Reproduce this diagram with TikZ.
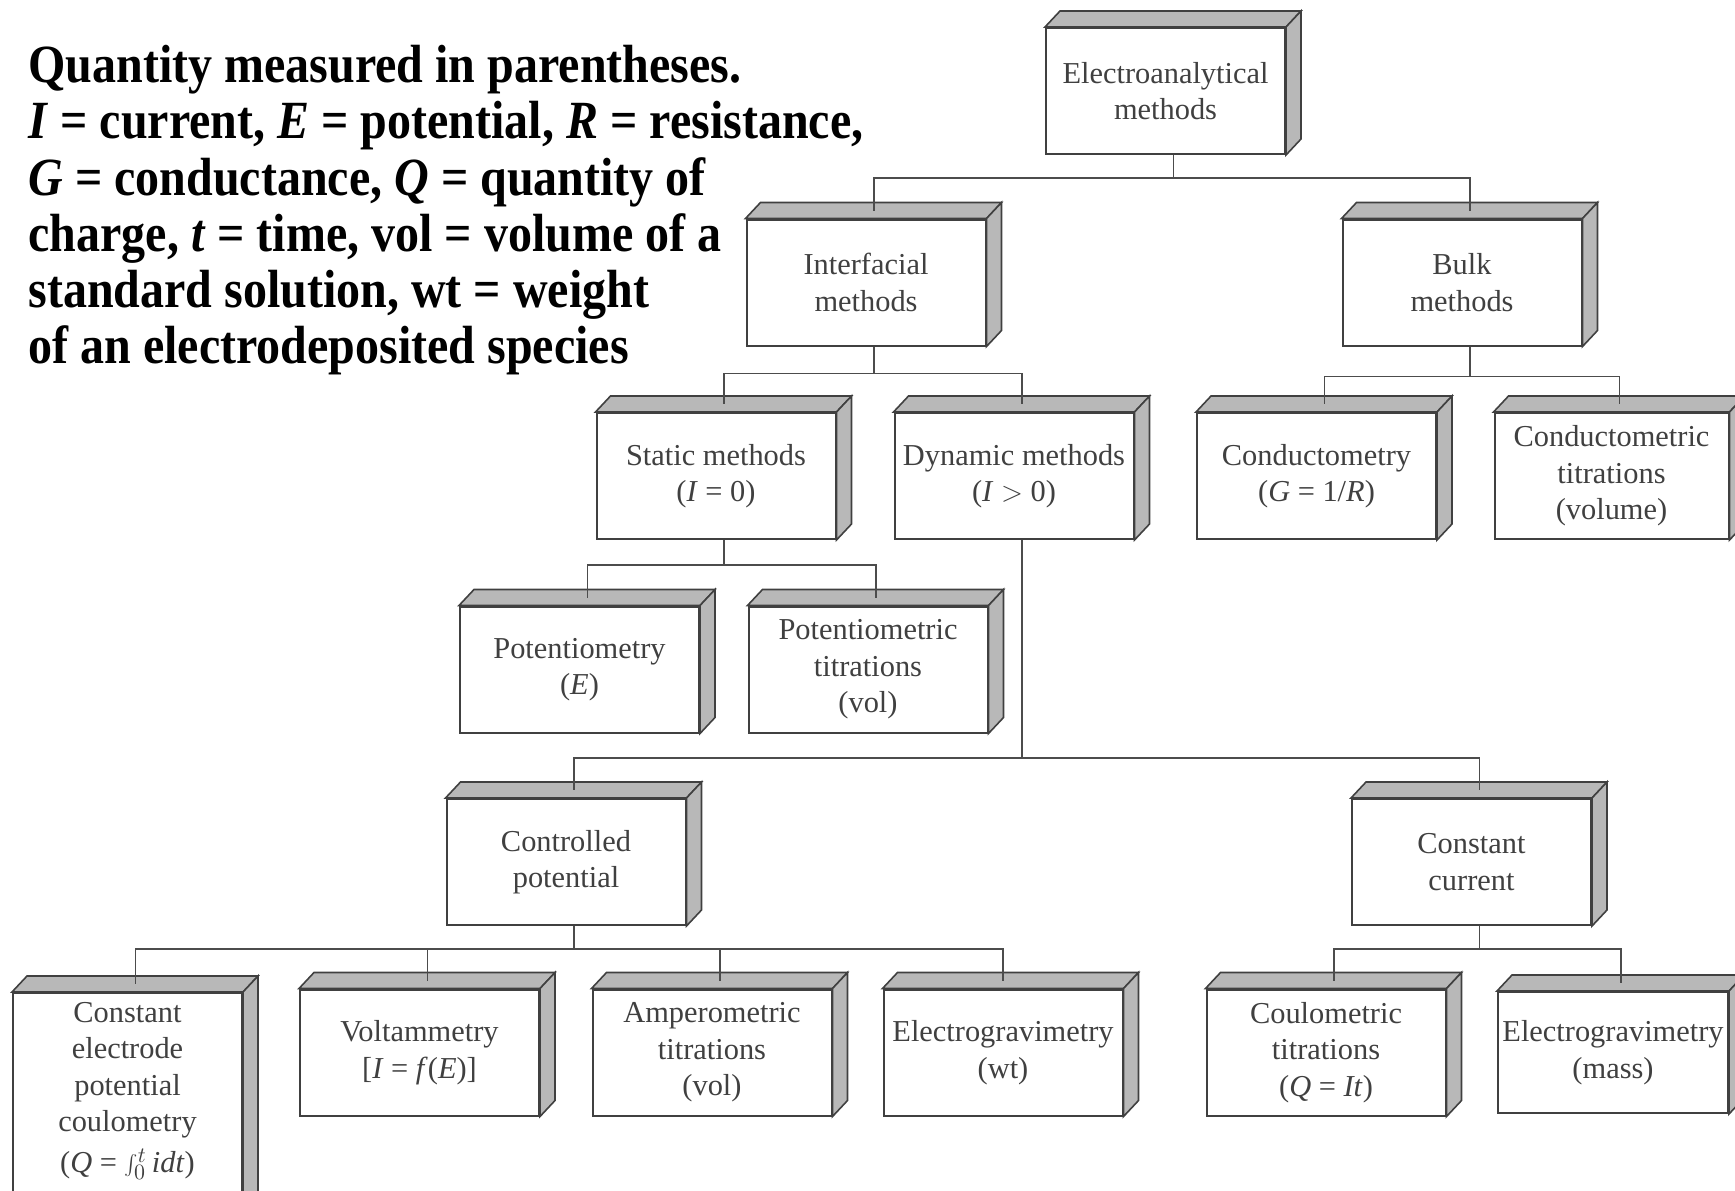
\documentclass[tikz,border=0pt]{standalone}
\usepackage{fontspec}
\setmainfont{Liberation Serif}
\usetikzlibrary{positioning}

\begin{document}
\begin{tikzpicture}[
      x=0.5pt, y=-0.5pt,
      box/.style={rectangle, draw=black!75, line width=1pt, fill=white, text=black!75, align=center,
        font=\fontsize{15.2}{18.3}\selectfont, minimum width=119.5pt, minimum height=63pt, inner sep=2pt},
      face/.style={draw=black!75, line width=0.8pt, fill=black!28},
      conn/.style={draw=black!70, line width=0.75pt}
    ]
    \useasboundingbox (0,0) rectangle (1735,1190);

    % Legend
    \node[anchor=north west, inner sep=0pt, align=left, yscale=1.12, transform shape,
          font=\bfseries\fontsize{24}{25.1}\selectfont] (legend) at (28,45)
      {Quantity measured in parentheses.\\
       \textit{I} = current, \textit{E} = potential, \textit{R} = resistance,\\
       \textit{G} = conductance, \textit{Q} = quantity of\\
       charge, \textit{t} = time, vol = volume of a\\
       standard solution, wt = weight\\
       of an electrodeposited species};

    % Nodes
    \node[box] (elec) at (1165.5,91) {Electroanalytical\\methods};
    \node[box] (inter) at (866,282.5) {Interfacial\\methods};
    \node[box] (bulk) at (1462,282.5) {Bulk\\methods};
    \node[box] (static) at (716,476) {Static methods\\(\textit{I} = 0)};
    \node[box] (dynamic) at (1014,476) {Dynamic methods\\(\textit{I} $>$ 0)};
    \node[box] (condmetry) at (1316.5,476) {Conductometry\\(\textit{G} = 1/\textit{R})};
    \node[box, minimum width=117pt] (condtit) at (1611.5,476) {Conductometric\\titrations\\(volume)};
    \node[box] (potmetry) at (579.5,669.5) {Potentiometry\\(\textit{E})};
    \node[box] (pottit) at (868,669.5) {Potentiometric\\titrations\\(vol)};
    \node[box] (contpot) at (566,862) {Controlled\\potential};
    \node[box] (constcur) at (1471.5,862) {Constant\\current};
    \node[box, minimum width=114.5pt, minimum height=112.5pt, anchor=north] (cepc) at (127.5,992)
      {Constant\\electrode\\potential\\coulometry\\[2pt](\textit{Q} = $\int_0^t$\,\textit{idt})\\\mbox{}};
    \node[box] (volt) at (419.5,1052.5) {Voltammetry\\{[}\textit{I} = \textit{f}(\textit{E})]};
    \node[box] (ampero) at (712,1052.5) {Amperometric\\titrations\\(vol)};
    \node[box] (egrav) at (1003,1052.5) {Electrogravimetry\\(wt)};
    \node[box] (coultit) at (1326,1052.5) {Coulometric\\titrations\\(\textit{Q} = \textit{It})};
    \node[box, minimum width=115pt, minimum height=60.5pt] (egravm) at (1613,1052.5) {Electrogravimetry\\(mass)};

    % Depth faces
    \foreach \b in {elec,inter,bulk,static,dynamic,condmetry,condtit,potmetry,pottit,
                    contpot,constcur,cepc,volt,ampero,egrav,coultit,egravm} {
      \draw[face] (\b.north west) -- ++(7.5pt,8pt) -- ([shift={(7.5pt,8pt)}]\b.north east)
        -- (\b.north east) -- cycle;
      \draw[face] (\b.north east) -- ++(7.5pt,8pt) -- ([shift={(7.5pt,8pt)}]\b.south east)
        -- (\b.south east) -- cycle;
    }

    % Connections
    \foreach \c in {inter,bulk}
      \draw[conn] ([xshift=4pt]elec.south) -- ++(0,-11.5pt) -| ([shift={(4pt,4pt)}]\c.north);
    \foreach \c in {static,dynamic}
      \draw[conn] ([xshift=4pt]inter.south) -- ++(0,-13.5pt) -| ([shift={(4pt,4pt)}]\c.north);
    \foreach \c in {condmetry,condtit}
      \draw[conn] ([xshift=4pt]bulk.south) -- ++(0,-15pt) -| ([shift={(4pt,4pt)}]\c.north);
    \foreach \c in {potmetry,pottit}
      \draw[conn] ([xshift=4pt]static.south) -- ++(0,-12.5pt) -| ([shift={(4pt,4pt)}]\c.north);
    \foreach \c in {contpot,constcur}
      \draw[conn] ([xshift=4pt]dynamic.south) -- ++(0,-109pt) -| ([shift={(4pt,4pt)}]\c.north);
    \foreach \c in {cepc,volt,ampero}
      \draw[conn] ([xshift=4pt]contpot.south) -- ++(0,-11.5pt) -| ([shift={(4pt,4pt)}]\c.north);
    \draw[conn] ([xshift=4pt]contpot.south) -- ++(0,-11.5pt) -| ([yshift=4pt]egrav.north);
    \foreach \c in {coultit,egravm}
      \draw[conn] ([xshift=4pt]constcur.south) -- ++(0,-11.5pt) -| ([shift={(4pt,4pt)}]\c.north);
  \end{tikzpicture}
\end{document}
